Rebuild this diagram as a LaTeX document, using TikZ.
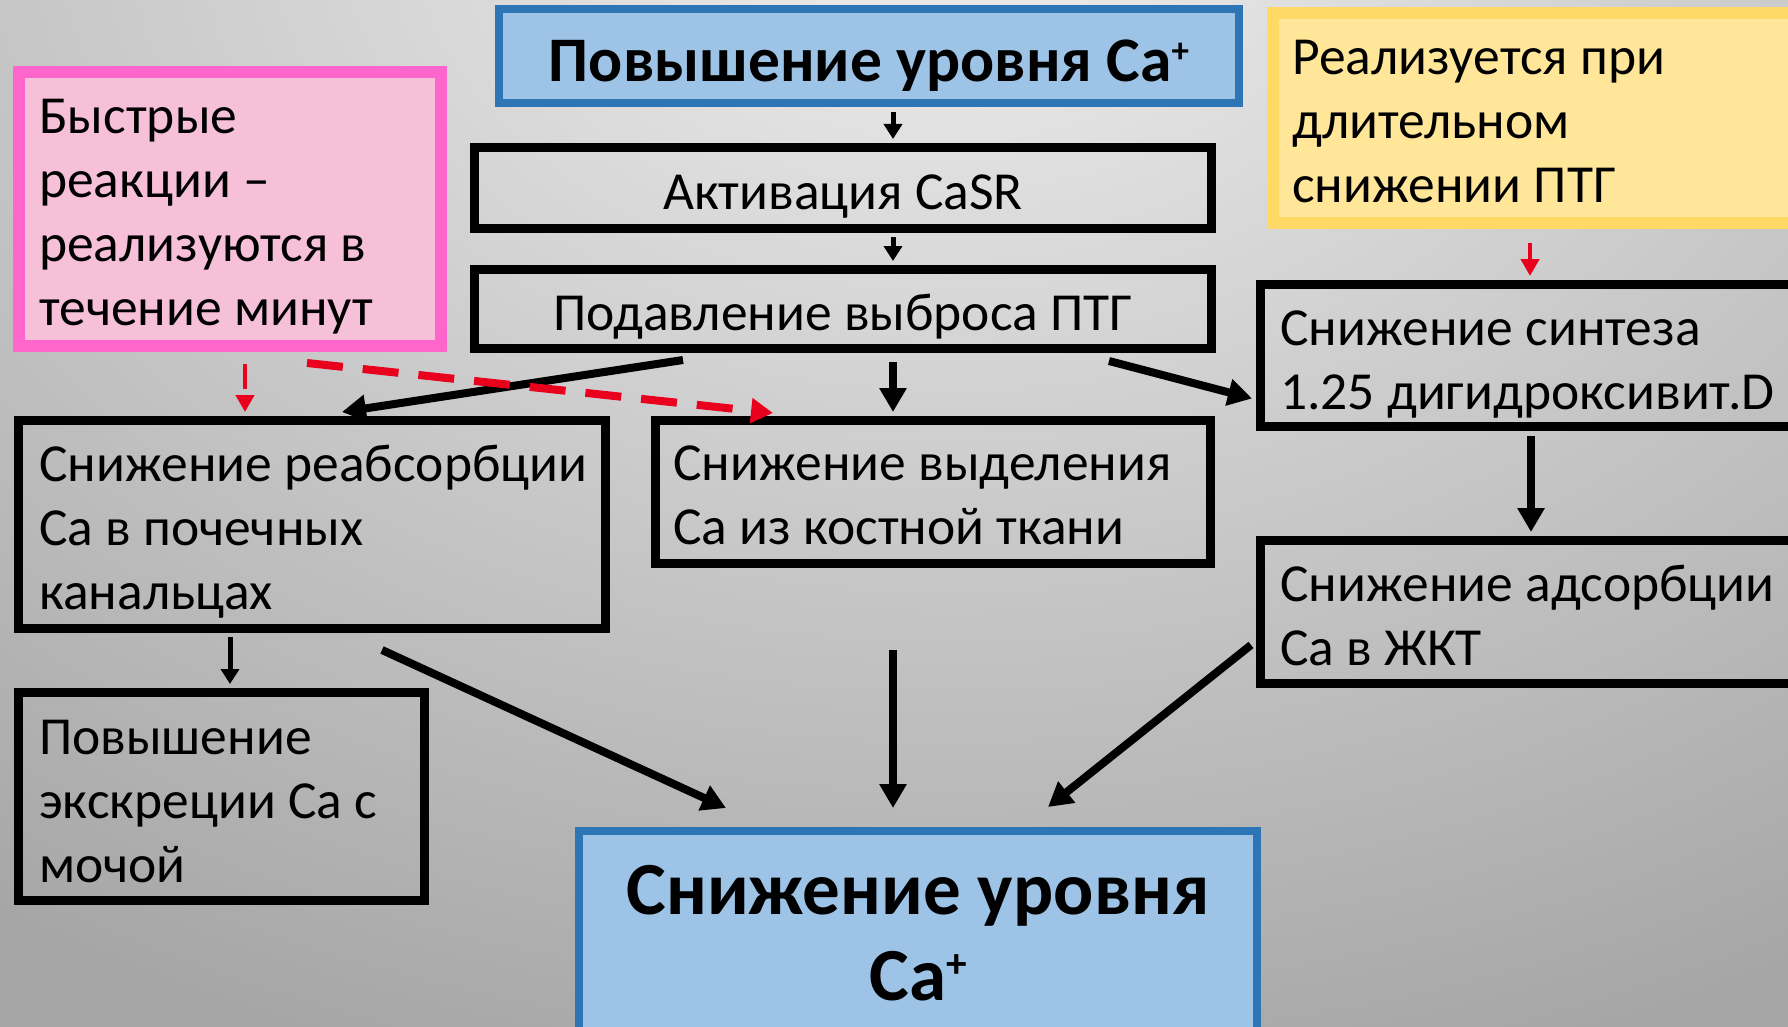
\documentclass[tikz,border=0pt]{standalone}
\usepackage{fontspec}
\setmainfont{Carlito}
\usetikzlibrary{arrows.meta,calc}
\definecolor{bglight}{RGB}{239,239,239}
\definecolor{bgdark}{RGB}{166,166,166}
\definecolor{titlefill}{RGB}{157,195,230}
\definecolor{titledraw}{RGB}{46,117,182}
\definecolor{pinkfill}{RGB}{247,192,217}
\definecolor{pinkdraw}{RGB}{255,102,204}
\definecolor{yelfill}{RGB}{255,230,153}
\definecolor{yeldraw}{RGB}{255,217,102}
\definecolor{alarm}{RGB}{232,0,28}
\newcommand{\ionplus}{\raisebox{0.3em}{\scalebox{0.55}{+}}}

\begin{document}
\begin{tikzpicture}[x=1pt,y=1pt,yscale=-1,xscale=1,
  box/.style={draw=black,line width=9pt,inner sep=0pt},
  bluebox/.style={draw=titledraw,fill=titlefill,line width=8pt,inner sep=0pt},
  pinkbox/.style={draw=pinkdraw,fill=pinkfill,line width=12pt,inner sep=0pt},
  yelbox/.style={draw=yeldraw,fill=yelfill,line width=12pt,inner sep=0pt},
  txt/.style={inner sep=0pt,align=left,font=\fontsize{53.5}{64}\selectfont},
  toptxt/.style={inner sep=0pt,font=\bfseries\fontsize{63.5}{80}\selectfont},
  bottxt/.style={inner sep=0pt,align=center,font=\bfseries\fontsize{75}{86}\selectfont},
  thinarr/.style={line width=5pt,-{Triangle[length=15pt,width=18pt]}},
  thickarr/.style={line width=8pt,-{Triangle[length=24pt,width=26pt]}},
  redarr/.style={draw=alarm,line width=4.5pt,dash pattern=on 25pt off 20pt,-{Triangle[length=17pt,width=18pt,fill=alarm]}},
  redthick/.style={draw=alarm,line width=8pt,dash pattern=on 36pt off 20pt,-{Triangle[length=22pt,width=24pt,fill=alarm]}}]
\useasboundingbox (0,0) rectangle (1788,1027);
\clip (0,0) rectangle (1788,1027);

% Background
\fill[bgdark] (0,0) rectangle (1788,1027);
\shade[inner color=bglight,outer color=bgdark] (950,-100) ellipse [x radius=1700,y radius=1220];

\coordinate (spine) at (893,0);

%Shape: Rectangle
\node[bluebox,minimum width=740,minimum height=94] (rise) at (869,56) {};
\node[box,minimum width=737,minimum height=81] (casr) at (843,188) {};
\node[box,minimum width=737,minimum height=79] (ptg) at (843,309) {};
\node[pinkbox,minimum width=422,minimum height=274] (fast) at (230,209) {};
\node[yelbox,minimum width=551,minimum height=210] (long) at (1548.5,118) {};
\node[box,minimum width=565,minimum height=142] (synth) at (1543,355.5) {};
\node[box,minimum width=587,minimum height=208] (reabs) at (312,524.5) {};
\node[box,minimum width=406,minimum height=208] (excr) at (221.5,796.5) {};
\node[box,minimum width=555,minimum height=143] (bone) at (933,492) {};
\node[box,minimum width=565,minimum height=143] (gut) at (1543,612) {};
\node[bluebox,minimum width=678,minimum height=205] (fall) at (918,933.5) {};

% Text Node (base = last line)
\node[toptxt,anchor=base] (rise-t) at (869,82) {Повышение уровня Ca\ionplus};
\node[txt,anchor=base] (casr-t) at (843,210) {Активация CaSR};
\node[txt,anchor=base] (ptg-t) at (843,330) {Подавление выброса ПТГ};
\node[txt,anchor=base west] (fast-t) at (39,325) {Быстрые\\реакции –\\реализуются в\\течение минут};
\node[txt,anchor=base west] (long-t) at (1292,203) {Реализуется при\\длительном\\снижении ПТГ};
\node[txt,anchor=base west] (synth-t) at (1280,409) {Снижение синтеза\\1.25 дигидроксивит.D};
\node[txt,anchor=base west] (reabs-t) at (39,609) {Снижение реабсорбции\\Ca в почечных\\канальцах};
\node[txt,anchor=base west] (excr-t) at (39,882) {Повышение\\экскреции Ca с\\мочой};
\node[txt,anchor=base west] (bone-t) at (673,544) {Снижение выделения\\Ca из костной ткани};
\node[txt,anchor=base west] (gut-t) at (1280,665) {Снижение адсорбции\\Ca в ЖКТ};
\node[bottxt,anchor=base] (fall-t) at (918,1000) {Снижение уровня\\Ca\ionplus};

%Straight Lines
\draw[thinarr,shorten <=5pt,shorten >=4pt] (rise.south -| spine) -- (casr.north -| spine);
\draw[thinarr,shorten <=4pt,shorten >=4pt] (casr.south -| spine) -- (ptg.north -| spine);
\draw[thickarr,shorten <=9pt,shorten >=4pt] (ptg.south -| spine) -- (bone.north -| spine);
\draw[thickarr] ($(ptg.south)+(-160,7)$) -- ($(reabs.north)+(30,-4)$);
\draw[thickarr] ($(ptg.south)+(266,8)$) -- ($(synth.west)+(-4,43)$);
\draw[thickarr] ($(synth.south)+(-12,5)$) -- ($(gut.north)+(-12,-4)$);
\draw[thinarr] ($(reabs.south)+(-82,4)$) -- ($(excr.north)+(8.5,-4)$);
\draw[thickarr] ($(reabs.south)+(70,17)$) -- ($(fall.north)+(-192,-19)$);
\draw[thickarr] ($(bone.south)+(-40,82)$) -- ($(fall.north)+(-25,-19)$);
\draw[thickarr] ($(gut.west)+(-5,33)$) -- ($(fall.north)+(130,-20)$);

%Dashed Lines
\draw[redarr] ($(fast.south)+(15,12)$) -- ($(reabs.north)+(-67,-4)$);
\draw[redthick] ($(fast.south)+(77,11)$) -- ($(bone.north)+(-160,-3)$);
\draw[redarr] ($(long.south)+(-18.5,14)$) -- ($(synth.north)+(-13,-4)$);

\end{tikzpicture}
\end{document}
